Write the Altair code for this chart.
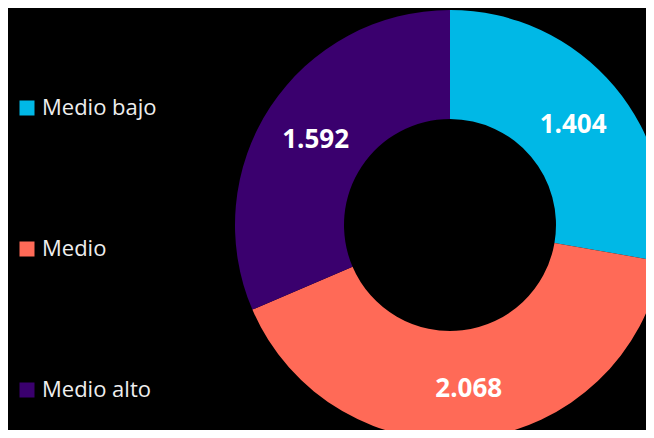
import altair as alt
import pandas as pd

categories = ["Medio bajo", "Medio", "Medio alto"]
values = [1404, 2068, 1592]
labels = ["1.404", "2.068", "1.592"]
colors = ["#00B8E6", "#FF6A57", "#3A006E"]

df = pd.DataFrame({
    "cat": categories,
    "value": values,
    "label": labels,
    "order": list(range(len(categories))),
})

cx, cy = 442, 217

base = alt.Chart(df).encode(
    theta=alt.Theta("value:Q", stack=True),
    order=alt.Order("order:Q"),
    x=alt.value(cx),
    y=alt.value(cy),
)

arc = base.mark_arc(outerRadius=215, innerRadius=106, stroke=None).encode(
    color=alt.Color(
        "cat:N",
        scale=alt.Scale(domain=categories, range=colors),
        legend=alt.Legend(
            title=None,
            orient="none",
            legendX=8,
            legendY=89,
            symbolType="square",
            symbolSize=225,
            symbolStrokeWidth=0,
            labelFontSize=22,
            labelFont="Open Sans",
            labelColor="#eeeeee",
            labelOffset=4,
            rowPadding=119,
            padding=0,
        ),
    )
)

text = base.mark_text(
    radius=161, font="Open Sans", fontSize=26, fontWeight="bold", color="white", dy=4
).encode(text="label:N")

chart = (
    alt.layer(arc, text)
    .properties(
        width=638,
        height=422,
        background="black",
        padding=0,
        autosize=alt.AutoSizeParams(type="none"),
    )
    .configure_view(stroke=None)
)

chart.save("out.html", embed_options={"renderer": "svg", "actions": False})
